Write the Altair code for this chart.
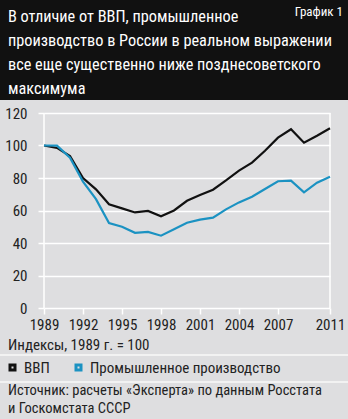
import altair as alt
import pandas as pd

years = list(range(1989, 2012))
gdp = [100, 98.5, 93.5, 80, 73, 63.8, 61.3, 58.8, 59.7, 56.5, 60, 66, 69.5, 72.8,
       78.5, 84.5, 89.5, 96.8, 104.8, 110, 101.7, 106, 110.6]
industry = [100, 99.9, 92.5, 77.8, 67, 52.3, 50, 46.3, 46.8, 44.5, 48.4, 52.5, 54.4,
            55.6, 60.7, 65, 68.5, 73.2, 78, 78.4, 71.2, 77.1, 80.8]
series_names = ["ВВП", "Промышленное производство"]
x_ticks = [1989, 1992, 1995, 1998, 2001, 2004, 2007, 2011]
y_ticks = [0, 20, 40, 60, 80, 100, 120]
edge_years = [1989, 2011]

title_lines = "В отличие от ВВП, промышленное\nпроизводство в России в реальном выражении\nвсе еще существенно ниже позднесоветского\nмаксимума"
chart_no = "График 1"
units = "Индексы, 1989 г. = 100"
source = "Источник: расчеты «Эксперта» по данным Росстата\nи Госкомстата СССР"

FONT = "Roboto Condensed"
BLUE = "#1b92c2"

rows = []
for name, vals in zip(series_names, [gdp, industry]):
    for y, v in zip(years, vals):
        rows.append({"year": y, "value": v, "series": name})
df = pd.DataFrame(rows)
edges = pd.DataFrame({"year": edge_years})

W, H = 286, 195
PL, PT = 44, 113

xscale = alt.Scale(domain=[1989, 2011], nice=False, zero=False)
yscale = alt.Scale(domain=[0, 120], nice=False)

header = alt.Chart(edges).mark_rect(color="#111111").encode(
    x=alt.value(-PL), x2=alt.value(348 - PL), y=alt.value(-PT), y2=alt.value(100 - PT)
)
seps = alt.Chart(pd.DataFrame({"k": [355 - PT, 382 - PT]})).mark_rule(
    color="#f2f2f2", strokeWidth=2
).encode(x=alt.value(-PL), x2=alt.value(348 - PL), y=alt.Y("k:Q", scale=None))

title = alt.Chart(edges.iloc[[0]]).mark_text(
    text=title_lines, lineBreak="\n", lineHeight=24, align="left", baseline="alphabetic",
    font=FONT, fontSize=16.3, color="white"
).encode(x=alt.value(8 - PL), y=alt.value(22 - PT))

num = alt.Chart(edges.iloc[[0]]).mark_text(
    text=chart_no, align="right", baseline="middle", font=FONT, fontSize=13, color="white"
).encode(x=alt.value(343 - PL), y=alt.value(12 - PT))

units_t = alt.Chart(edges.iloc[[0]]).mark_text(
    text=units, align="left", baseline="middle", font=FONT, fontSize=15, color="#222222"
).encode(x=alt.value(8 - PL), y=alt.value(345 - PT))

src_t = alt.Chart(edges.iloc[[0]]).mark_text(
    text=source, lineBreak="\n", lineHeight=18, align="left", baseline="middle",
    font=FONT, fontSize=14.5, color="#222222"
).encode(x=alt.value(8 - PL), y=alt.value(391 - PT))

vlines = alt.Chart(edges).mark_rule(color="white", strokeWidth=1.5).encode(
    x=alt.X("year:Q", scale=xscale),
    y=alt.value(0), y2=alt.value(H)
)

lines = alt.Chart(df).mark_line(strokeWidth=2.2).encode(
    x=alt.X("year:Q", scale=xscale, title=None,
            axis=alt.Axis(values=x_ticks, format="d", grid=False, domain=False,
                          tickColor="white", tickSize=6, tickWidth=1.5,
                          labelFont=FONT, labelFontSize=15, labelColor="#222222",
                          labelPadding=3, labelFlush=False)),
    y=alt.Y("value:Q", scale=yscale, title=None,
            axis=alt.Axis(values=y_ticks, grid=True, gridColor="white", gridWidth=1.5,
                          domain=False, tickColor="white", tickSize=6, tickWidth=1.5,
                          labelFont=FONT, labelFontSize=15, labelColor="#222222",
                          labelPadding=11)),
    color=alt.Color("series:N", scale=alt.Scale(domain=series_names, range=["#111111", BLUE]),
                    legend=alt.Legend(title=None, orient="none", legendX=5 - PL, legendY=360 - PT,
                                      direction="horizontal", symbolType="square",
                                      symbolSize=25, symbolStrokeWidth=3, symbolOpacity=1,
                                      labelFont=FONT, labelFontSize=15, labelColor="#222222",
                                      labelLimit=400, columnPadding=20, labelOffset=4)),
    order="year:Q"
)

chart = alt.layer(header, seps, title, num, units_t, src_t, vlines, lines).properties(
    width=W, height=H,
    autosize=alt.AutoSizeParams(type="none"),
    padding={"left": PL, "top": PT, "right": 348 - PL - W, "bottom": 419 - PT - H},
    background="#dedee0"
).configure_view(stroke=None)

chart.save("out.html", embed_options={"renderer": "svg", "actions": False})
